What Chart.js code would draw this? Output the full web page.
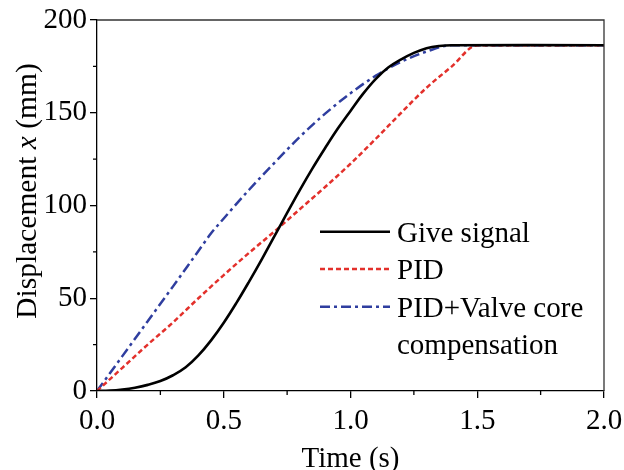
<!DOCTYPE html>
<html>
<head>
<meta charset="utf-8">
<script src="https://cdn.jsdelivr.net/npm/chart.js@4"></script>
<style>
  html, body { margin: 0; padding: 0; background: #fff; }
  #wrap { width: 624px; height: 470px; }
</style>
</head>
<body>
<div id="wrap"><canvas id="c" width="624" height="470"></canvas></div>
<script>
// ---- data ----
const giveTime   = [0, 0.05, 0.1, 0.15, 0.2, 0.25, 0.3, 0.35, 0.4, 0.45, 0.5, 0.55, 0.6, 0.65, 0.7, 0.75, 0.8, 0.85, 0.9, 0.95, 1.0, 1.05, 1.1, 1.15, 1.2, 1.25, 1.3, 1.35, 1.4, 2.0];
const giveSignal = [0, 0.2, 0.8, 1.8, 3.3, 5.4, 8.5, 12.8, 19.2, 27.3, 36.8, 47.5, 59, 71, 83.5, 96, 108.3, 120, 131, 141.5, 151, 160.3, 168.3, 174.5, 178.8, 182.3, 184.8, 186, 186.4, 186.4];

const pidTime    = [0, 0.1, 0.2, 0.3, 0.4, 0.5, 0.6, 0.7, 0.8, 0.9, 1.0, 1.1, 1.2, 1.3, 1.4, 1.5, 2.0];
const pidValues  = [0, 12.5, 25, 37, 50, 62.5, 74.5, 86, 98, 110, 122.5, 136, 150, 163.5, 175, 186.4, 186.4];

const compTime   = [0, 0.1, 0.2, 0.3, 0.4, 0.45, 0.5, 0.6, 0.7, 0.8, 0.9, 1.0, 1.1, 1.2, 1.3, 1.4, 2.0];
const compValues = [0, 18.8, 37.6, 56.4, 75.5, 85, 93, 108.5, 123, 137, 149.5, 160.5, 170, 177.5, 183, 186.4, 186.4];

const seriesLabels = ['Give signal', 'PID', 'PID+Valve core compensation'];
const legendLines  = [['Give signal'], ['PID'], ['PID+Valve core', 'compensation']];
const xTicks = [0, 0.5, 1.0, 1.5, 2.0];
const yTicks = [0, 50, 100, 150, 200];
const xMinor = [0.25, 0.75, 1.25, 1.75];
const yMinor = [25, 75, 125, 175];
const xTitle = 'Time (s)';
const yTitleParts = [['Displacement ', false], ['x', true], [' (mm)', false]];

const FONT = "'Liberation Serif', 'Times New Roman', serif";
const toPts = (xs, ys) => xs.map((x, i) => ({ x: x, y: ys[i] }));

const decorPlugin = {
  id: 'decor',
  afterDraw(chart) {
    const ctx = chart.ctx;
    const a = chart.chartArea;
    const xs = chart.scales.x, ys = chart.scales.y;
    ctx.save();
    // frame top/right
    ctx.strokeStyle = '#333';
    ctx.lineWidth = 1.3;
    ctx.beginPath();
    ctx.moveTo(a.left, a.top); ctx.lineTo(a.right, a.top); ctx.lineTo(a.right, a.bottom);
    ctx.stroke();
    // minor ticks
    ctx.strokeStyle = '#000';
    ctx.beginPath();
    xMinor.forEach(v => { const p = xs.getPixelForValue(v); ctx.moveTo(p, a.bottom); ctx.lineTo(p, a.bottom + 4); });
    yMinor.forEach(v => { const p = ys.getPixelForValue(v); ctx.moveTo(a.left, p); ctx.lineTo(a.left - 4, p); });
    ctx.stroke();
    // x title
    ctx.fillStyle = '#000';
    ctx.font = '29px ' + FONT;
    ctx.textAlign = 'center';
    ctx.textBaseline = 'alphabetic';
    ctx.fillText(xTitle, (a.left + a.right) / 2, 466.5);
    // y title (rotated, with italic x)
    ctx.save();
    ctx.translate(35.5, 191);
    ctx.rotate(-Math.PI / 2);
    let total = 0;
    const widths = yTitleParts.map(([t, it]) => {
      ctx.font = (it ? 'italic ' : '') + '29.5px ' + FONT;
      const w = ctx.measureText(t).width; total += w; return w;
    });
    let x0 = -total / 2;
    ctx.textAlign = 'left';
    yTitleParts.forEach(([t, it], i) => {
      ctx.font = (it ? 'italic ' : '') + '29.5px ' + FONT;
      ctx.fillText(t, x0, 0);
      x0 += widths[i];
    });
    ctx.restore();
    // legend
    const baselines = [241.7, 279, 316.7];
    chart.data.datasets.forEach((ds, i) => {
      const by = baselines[i];
      const ly = by - 10;
      ctx.save();
      ctx.strokeStyle = ds.borderColor;
      ctx.lineWidth = ds.borderWidth;
      ctx.setLineDash(ds.borderDash || []);
      ctx.beginPath(); ctx.moveTo(320, ly); ctx.lineTo(390, ly); ctx.stroke();
      ctx.restore();
      ctx.fillStyle = '#000';
      ctx.font = '29px ' + FONT;
      ctx.textAlign = 'left';
      legendLines[i].forEach((t, k) => ctx.fillText(t, 397, by + k * 36.8));
    });
    ctx.restore();
  }
};

new Chart(document.getElementById('c'), {
  type: 'line',
  data: {
    datasets: [
      { label: seriesLabels[0], data: toPts(giveTime, giveSignal), borderColor: '#000000', borderWidth: 2.6, pointRadius: 0, tension: 0.4, fill: false },
      { label: seriesLabels[1], data: toPts(pidTime, pidValues), borderColor: '#e3302b', borderWidth: 2.5, borderDash: [5, 3], pointRadius: 0, cubicInterpolationMode: 'monotone', fill: false },
      { label: seriesLabels[2], data: toPts(compTime, compValues), borderColor: '#2f3e9f', borderWidth: 2.5, borderDash: [10, 4, 3, 4], pointRadius: 0, cubicInterpolationMode: 'monotone', fill: false }
    ]
  },
  options: {
    responsive: false,
    animation: false,
    devicePixelRatio: 1,
    layout: { padding: { top: 20, right: 20, left: 0, bottom: 0 } },
    plugins: { legend: { display: false }, tooltip: { enabled: false } },
    scales: {
      x: {
        type: 'linear', min: 0, max: 2,
        afterBuildTicks: s => { s.ticks = xTicks.map(v => ({ value: v })); },
        afterFit: s => { s.height = 79; s.paddingLeft = 0; s.paddingRight = 0; },
        ticks: { callback: v => v.toFixed(1), font: { family: FONT, size: 29 }, color: '#000', padding: 6, maxRotation: 0, autoSkip: false },
        grid: { drawOnChartArea: false, drawTicks: true, tickLength: 7, color: '#000', lineWidth: 1.3 },
        border: { color: '#000', width: 1.3 }
      },
      y: {
        type: 'linear', min: 0, max: 200,
        afterBuildTicks: s => { s.ticks = yTicks.map(v => ({ value: v })); },
        afterFit: s => { s.width = 97; s.paddingTop = 0; s.paddingBottom = 0; },
        ticks: { callback: v => String(v), font: { family: FONT, size: 29 }, color: '#000', padding: 3, autoSkip: false },
        grid: { drawOnChartArea: false, drawTicks: true, tickLength: 7, color: '#000', lineWidth: 1.3 },
        border: { color: '#000', width: 1.3 }
      }
    }
  },
  plugins: [decorPlugin]
});
</script>
</body>
</html>
